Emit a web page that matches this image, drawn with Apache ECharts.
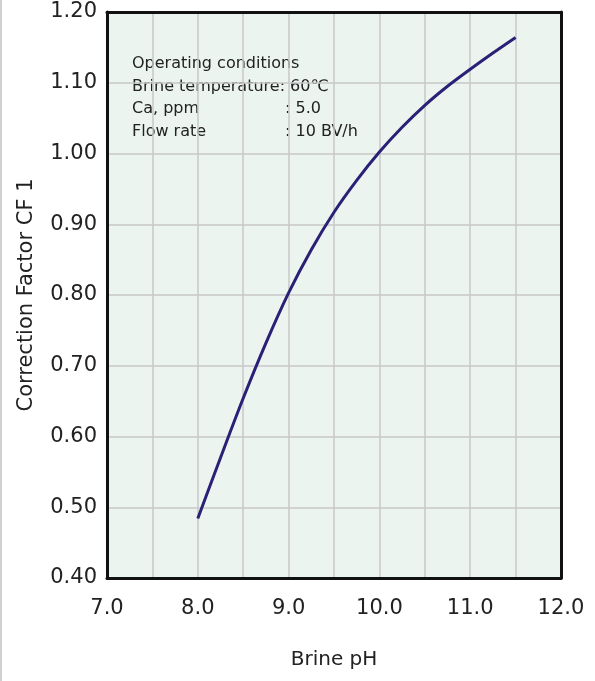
<!DOCTYPE html>
<html>
<head>
<meta charset="utf-8">
<script src="https://cdn.jsdelivr.net/npm/echarts@6/dist/echarts.min.js"></script>
<style>
    html, body { margin: 0; padding: 0; background: #fff; }
    #chart { width: 595px; height: 681px; box-sizing: border-box; border-left: 2px solid #d0d0d0; }
</style>
</head>
<body>
<div id="chart"></div>
<script>
    // Brine pH vs correction factor
    var phValues = [8.0, 8.25, 8.5, 8.75, 9.0, 9.25, 9.5, 9.75, 10.0, 10.25, 10.5, 10.75, 11.0, 11.25, 11.5];
    var cfValues = [0.484, 0.570, 0.654, 0.732, 0.803, 0.864, 0.917, 0.962, 1.002, 1.037, 1.068, 1.095, 1.119, 1.142, 1.164];
    var conditionLabels = ['Operating conditions', 'Brine temperature: 60\u2103', 'Ca, ppm', 'Flow rate'];
    var conditionValues = ['', '', ': 5.0', ': 10 BV/h'];

    var fontFamily = 'DejaVu Sans';
    var chart = echarts.init(document.getElementById('chart'));

    var graphicText = [];
    conditionLabels.forEach(function(t, i) {
        graphicText.push({
            type: 'text', left: 130, top: 56 + i * 22.5,
            style: { text: t, font: '16px "' + fontFamily + '"', fill: '#222' }
        });
        if (conditionValues[i]) {
            graphicText.push({
                type: 'text', left: 283, top: 56 + i * 22.5,
                style: { text: conditionValues[i], font: '16px "' + fontFamily + '"', fill: '#222' }
            });
        }
    });

    var option = {
        animation: false,
        backgroundColor: '#fff',
        grid: {
            left: 105, right: 34, top: 12, bottom: 103,
            show: true, backgroundColor: '#ebf4ef', borderWidth: 0
        },
        xAxis: [{
            type: 'value', min: 7, max: 12, interval: 0.5,
            name: 'Brine pH', nameLocation: 'middle', nameGap: 72,
            nameTextStyle: { fontFamily: fontFamily, fontSize: 20, color: '#222' },
            axisLine: { lineStyle: { color: '#111', width: 3 } },
            axisTick: { show: false },
            axisLabel: {
                margin: 20, fontFamily: fontFamily, fontSize: 21, color: '#222',
                formatter: function(v) { return Math.abs(v % 1) < 1e-6 ? v.toFixed(1) : ''; }
            },
            splitLine: { lineStyle: { color: '#c9c9c9', width: 1.5 } }
        }, {
            type: 'value', position: 'top', min: 7, max: 12,
            axisLine: { show: true, lineStyle: { color: '#111', width: 3 } },
            axisTick: { show: false }, axisLabel: { show: false }, splitLine: { show: false }
        }],
        yAxis: [{
            type: 'value', min: 0.4, max: 1.2, interval: 0.1,
            name: 'Correction Factor CF 1', nameLocation: 'middle', nameGap: 70,
            nameTextStyle: { fontFamily: fontFamily, fontSize: 21, color: '#222' },
            axisLine: { show: true, lineStyle: { color: '#111', width: 3 } },
            axisTick: { show: false },
            axisLabel: {
                margin: 10, fontFamily: fontFamily, fontSize: 21, color: '#222',
                formatter: function(v) { return v.toFixed(2); }
            },
            splitLine: { lineStyle: { color: '#c9c9c9', width: 1.5 } }
        }, {
            type: 'value', position: 'right', min: 0.4, max: 1.2,
            axisLine: { show: true, lineStyle: { color: '#111', width: 3 } },
            axisTick: { show: false }, axisLabel: { show: false }, splitLine: { show: false }
        }],
        graphic: graphicText,
        series: [{
            type: 'line',
            smooth: 0.3,
            showSymbol: false,
            lineStyle: { color: '#2a2176', width: 3 },
            data: phValues.map(function(x, i) { return [x, cfValues[i]]; })
        }]
    };
    chart.setOption(option);
</script>
</body>
</html>
